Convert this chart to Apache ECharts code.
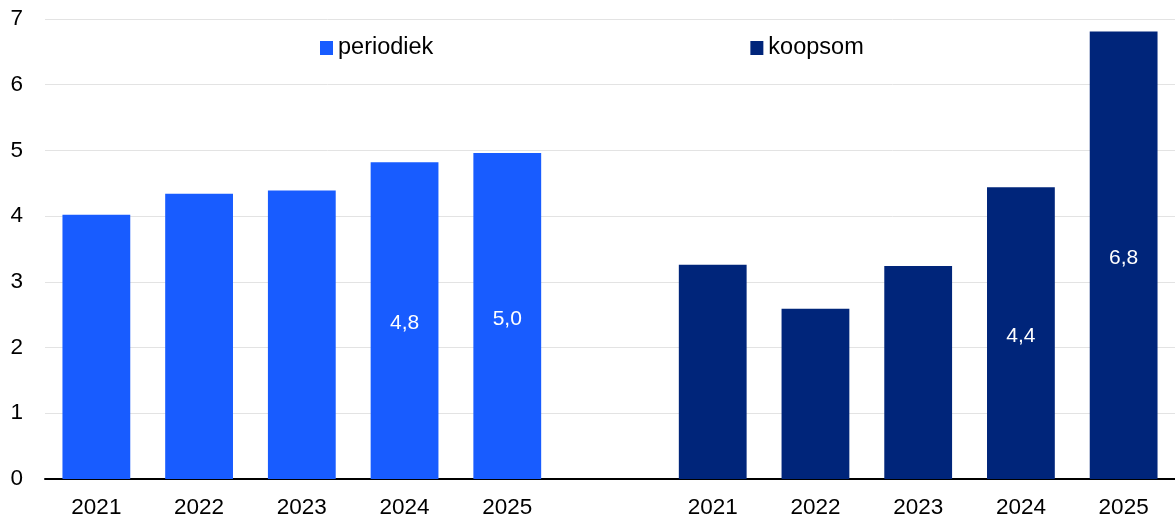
<!DOCTYPE html>
<html>
<head>
<meta charset="utf-8">
<script src="https://cdn.jsdelivr.net/npm/echarts@6/dist/echarts.min.js"></script>
<style>
html,body{margin:0;padding:0;background:#fff;}
#c{width:1175px;height:519px;}
</style>
</head>
<body>
<div id="c"></div>
<script>
var categories = ['2021','2022','2023','2024','2025','','2021','2022','2023','2024','2025'];
var periodiek = [4.02, 4.34, 4.39, 4.82, 4.96, '-', '-', '-', '-', '-', '-'];
var koopsom = ['-', '-', '-', '-', '-', '-', 3.26, 2.59, 3.24, 4.44, 6.81];
var labelledIndex = [3, 4, 9, 10];
var yTicks = [0, 1, 2, 3, 4, 5, 6, 7];

var FONT = '"Liberation Sans", Arial, sans-serif';

function withLabels(arr) {
  return arr.map(function (v, i) {
    if (v === '-') return v;
    return {
      value: v,
      label: { show: labelledIndex.indexOf(i) >= 0 }
    };
  });
}

var chart = echarts.init(document.getElementById('c'), null, { renderer: 'canvas' });
chart.setOption({
  animation: false,
  backgroundColor: '#ffffff',
  textStyle: { fontFamily: FONT },
  legend: {
    top: 36,
    left: 320,
    padding: 0,
    itemWidth: 13,
    itemHeight: 14,
    itemGap: 317,
    icon: 'rect',
    textStyle: { fontSize: 23.5, color: '#000', fontFamily: FONT },
    data: ['periodiek', 'koopsom']
  },
  grid: { left: 45, right: 0, top: 19, bottom: 39, containLabel: false },
  xAxis: {
    type: 'category',
    data: categories,
    axisTick: { show: false },
    axisLine: { lineStyle: { color: '#000', width: 2 } },
    axisLabel: { fontSize: 22.5, color: '#000', margin: 17, fontFamily: FONT, interval: 0 }
  },
  yAxis: {
    type: 'value',
    min: yTicks[0],
    max: yTicks[yTicks.length - 1],
    interval: 1,
    axisLine: { show: false },
    axisTick: { show: false },
    splitLine: { lineStyle: { color: '#e3e3e3', width: 1 } },
    axisLabel: { fontSize: 22.5, color: '#000', margin: 22, fontFamily: FONT }
  },
  series: [
    {
      name: 'periodiek',
      type: 'bar',
      stack: 'all',
      barWidth: '66%',
      itemStyle: { color: '#185cff' },
      label: {
        position: 'inside', offset: [0, 3], color: '#fff', fontSize: 21, fontFamily: FONT,
        formatter: function (p) { return p.value.toFixed(1).replace('.', ','); }
      },
      data: withLabels(periodiek)
    },
    {
      name: 'koopsom',
      type: 'bar',
      stack: 'all',
      barWidth: '66%',
      itemStyle: { color: '#00257a' },
      label: {
        position: 'inside', offset: [0, 3], color: '#fff', fontSize: 21, fontFamily: FONT,
        formatter: function (p) { return p.value.toFixed(1).replace('.', ','); }
      },
      data: withLabels(koopsom)
    }
  ]
});
</script>
</body>
</html>
